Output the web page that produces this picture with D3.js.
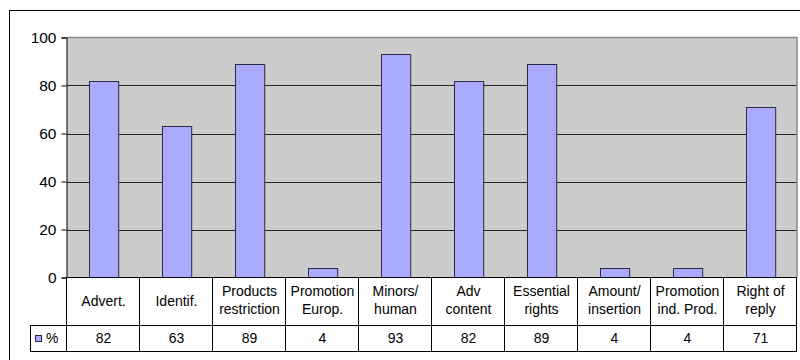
<!DOCTYPE html>
<html>
<head>
<meta charset="utf-8">
<script src="https://cdn.jsdelivr.net/npm/d3@7"></script>
<style>
  body { margin: 0; background: #fff; }
  #chart { width: 800px; height: 360px; }
  text { font-family: "Liberation Sans", Arial, sans-serif; fill: #000; }
</style>
</head>
<body>
<div id="chart"></div>
<script>
const categories = [
  ["Advert."], ["Identif."], ["Products", "restriction"], ["Promotion", "Europ."],
  ["Minors/", "human"], ["Adv", "content"], ["Essential", "rights"],
  ["Amount/", "insertion"], ["Promotion", "ind. Prod."], ["Right of", "reply"]
];
const values = [82, 63, 89, 4, 93, 82, 89, 4, 4, 71];
const yTicks = [0, 20, 40, 60, 80, 100];
const seriesName = "%";

const svg = d3.select("#chart").append("svg")
  .attr("width", 800)
  .attr("height", 360);

// outer chart frame (runs past the picture edge)
svg.append("rect")
  .attr("x", 9.5).attr("y", 10.5)
  .attr("width", 820).attr("height", 380)
  .attr("fill", "#fff").attr("stroke", "#000");

const plot = { left: 67, right: 797, top: 37.5, bottom: 277.5 };
const rowMid = 325, rowEnd = 351, legendLeft = 30;

const x = d3.scaleBand()
  .domain(d3.range(categories.length))
  .range([plot.left, plot.right])
  .paddingInner(0.6)
  .paddingOuter(0.3);
const xCell = d3.scaleBand()
  .domain(d3.range(categories.length))
  .range([plot.left, plot.right]);
const y = d3.scaleLinear().domain([0, 100]).range([plot.bottom, plot.top]);

// plot background
svg.append("rect")
  .attr("x", plot.left).attr("y", plot.top)
  .attr("width", plot.right - plot.left).attr("height", plot.bottom - plot.top)
  .attr("fill", "#cccccc");

// gridlines
svg.append("g")
  .selectAll("line")
  .data(yTicks.filter(d => d > 0 && d < 100))
  .join("line")
  .attr("x1", plot.left).attr("x2", plot.right)
  .attr("y1", d => Math.round(y(d)) + 0.5).attr("y2", d => Math.round(y(d)) + 0.5)
  .attr("stroke", "#222");

// plot border top / right
svg.append("path")
  .attr("d", `M${plot.left},${plot.top}H${plot.right}V${plot.bottom}`)
  .attr("fill", "none").attr("stroke", "#8a8a8a").attr("stroke-width", 1.5);

// bars
svg.append("g")
  .selectAll("rect")
  .data(values)
  .join("rect")
  .attr("x", (d, i) => Math.round(x(i)) + 0.5)
  .attr("y", d => Math.round(y(d)) + 0.5)
  .attr("width", x.bandwidth())
  .attr("height", d => plot.bottom - Math.round(y(d)) - 0.5)
  .attr("fill", "#aaaaff")
  .attr("stroke", "#2a2a40");

// y axis
const yAxis = d3.axisLeft(y).tickValues(yTicks).tickSize(5).tickPadding(5);
const ga = svg.append("g")
  .attr("transform", `translate(${plot.left - 0.5},0)`)
  .call(yAxis);
ga.select(".domain").attr("stroke", "#000");
ga.selectAll(".tick line").attr("stroke", "#000");
ga.selectAll("text").attr("font-size", 15.5).attr("font-family", '"Liberation Sans", Arial, sans-serif');

// data table
const table = svg.append("g").attr("stroke", "#000").attr("fill", "none");
table.append("line")
  .attr("x1", plot.left).attr("x2", plot.right)
  .attr("y1", plot.bottom).attr("y2", plot.bottom);
table.append("line")
  .attr("x1", legendLeft).attr("x2", plot.right)
  .attr("y1", rowMid + 0.5).attr("y2", rowMid + 0.5);
table.append("line")
  .attr("x1", legendLeft).attr("x2", plot.right)
  .attr("y1", rowEnd + 0.5).attr("y2", rowEnd + 0.5);
table.append("line")
  .attr("x1", legendLeft + 0.5).attr("x2", legendLeft + 0.5)
  .attr("y1", rowMid).attr("y2", rowEnd);
table.selectAll(".vcell")
  .data(d3.range(categories.length + 1))
  .join("line")
  .attr("class", "vcell")
  .attr("x1", i => Math.round(plot.left + i * xCell.step()) - 0.5)
  .attr("x2", i => Math.round(plot.left + i * xCell.step()) - 0.5)
  .attr("y1", plot.bottom).attr("y2", rowEnd);

// category labels
const catG = svg.append("g")
  .selectAll("text")
  .data(categories)
  .join("text")
  .attr("text-anchor", "middle")
  .attr("font-size", 14)
  .attr("x", (d, i) => xCell(i) + xCell.bandwidth() / 2)
  .attr("y", d => d.length === 1 ? 306 : 296);
catG.selectAll("tspan")
  .data(d => d)
  .join("tspan")
  .attr("x", function () { return d3.select(this.parentNode).attr("x"); })
  .attr("dy", (d, i) => i === 0 ? 0 : 18)
  .text(d => d);

// values row
svg.append("g")
  .selectAll("text")
  .data(values)
  .join("text")
  .attr("text-anchor", "middle")
  .attr("font-size", 14)
  .attr("x", (d, i) => xCell(i) + xCell.bandwidth() / 2)
  .attr("y", 343)
  .text(d => d);

// legend key in table
svg.append("rect")
  .attr("x", 35.5).attr("y", 335.5)
  .attr("width", 6).attr("height", 6)
  .attr("fill", "#aaaaff").attr("stroke", "#2a2a40");
svg.append("text")
  .attr("x", 46).attr("y", 343)
  .attr("font-size", 14)
  .text(seriesName);
</script>
</body>
</html>
